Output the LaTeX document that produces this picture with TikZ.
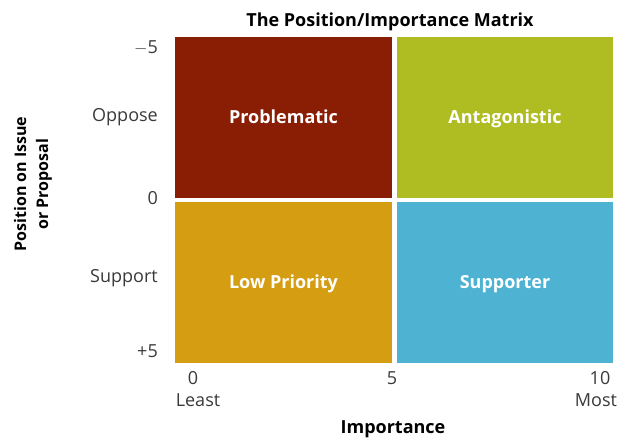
\documentclass[tikz,border=0pt]{standalone}
\usepackage{fontspec}
\setmainfont{Open Sans}
\definecolor{qred}{HTML}{8A1E04}
\definecolor{qgreen}{HTML}{AFBD22}
\definecolor{qgold}{HTML}{D59E12}
\definecolor{qblue}{HTML}{4EB2D3}
\definecolor{axisgray}{HTML}{3A3A3A}
\begin{document}
\begin{tikzpicture}[x=1pt,y=-1pt,
  quad/.style={rectangle, inner sep=0pt, text=white,
    text height=13pt, text depth=1pt,
    font=\bfseries\fontsize{18}{21}\selectfont},
  ticklabel/.style={inner sep=0pt, text=axisgray,
    font=\fontsize{18}{21}\selectfont},
  axistitle/.style={inner sep=0pt, text=black, align=center,
    font=\bfseries\fontsize{18}{21}\selectfont}]
\useasboundingbox[fill=white] (0,0) rectangle (618,438);

% title
\node[axistitle, anchor=base] (title) at (390,27) {The Position/Importance Matrix};

% the four quadrants
\node[quad, fill=qred,   minimum width=217pt, minimum height=160.5pt] (prob) at (283.5,117.75) {Problematic};
\node[quad, fill=qgreen, minimum width=216pt, minimum height=160.5pt] (anta) at (505,117.75) {Antagonistic};
\node[quad, fill=qgold,  minimum width=217pt, minimum height=161pt]   (low)  at (283.5,282.5) {Low Priority};
\node[quad, fill=qblue,  minimum width=216pt, minimum height=161pt]   (supp) at (505,282.5) {Supporter};

% vertical axis
\node[ticklabel, anchor=base east] (ym5) at (158,54) {$-$5};
\node[ticklabel, anchor=base east] (yopp) at (158,122) {Oppose};
\node[ticklabel, anchor=base east] (y0) at (158,205) {0};
\node[ticklabel, anchor=base east] (ysup) at (158,283) {Support};
\node[ticklabel, anchor=base east] (yp5) at (158,357) {+5};
\node[axistitle, rotate=90, font=\bfseries\fontsize{16}{22}\selectfont] (ytitle) at (33,184) {Position on Issue\\or Proposal};

% horizontal axis
\node[ticklabel, anchor=base] (x0) at (193,384) {0};
\node[ticklabel, anchor=base] (x5) at (392,384) {5};
\node[ticklabel, anchor=base] (x10) at (600,384) {10};
\node[ticklabel, anchor=base] (xleast) at (198,406) {Least};
\node[ticklabel, anchor=base] (xmost) at (596,406) {Most};
\node[axistitle, anchor=base] (xtitle) at (393,433) {Importance};
\end{tikzpicture}
\end{document}
